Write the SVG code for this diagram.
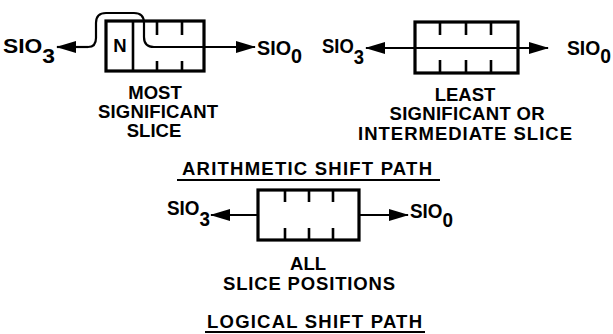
<svg xmlns="http://www.w3.org/2000/svg" width="613" height="334" viewBox="0 0 613 334">
<style>
.box{fill:none;stroke:#000;stroke-width:3.2}
.tk{fill:none;stroke:#000;stroke-width:2.6}
.ln{fill:none;stroke:#000;stroke-width:2.2}
.t{font-family:"Liberation Sans",Arial,sans-serif;font-weight:bold;font-size:18.5px;fill:#000}
.s{font-family:"Liberation Sans",Arial,sans-serif;font-weight:bold;font-size:19.5px;fill:#000}
.c{text-anchor:middle}
</style>
<defs>
<marker id="ah" viewBox="0 0 20 13" refX="19" refY="6.5" markerWidth="20" markerHeight="13" markerUnits="userSpaceOnUse" orient="auto">
<path d="M0,0.5 L20,6.5 L0,12.5 Z" fill="#000"/>
</marker>
</defs>
<rect width="613" height="334" fill="#fff"/>
<g id="connectors">
<path class="ln" d="M88,47 H57" marker-end="url(#ah)"/>
<path class="ln" d="M88,47 Q96,47 96,38 V23 Q96,13 106,13 H134 Q144,13 144,23 V37 Q144,47 154,47 H255" marker-end="url(#ah)"/>
<path class="ln" d="M466,48 H366" marker-end="url(#ah)"/>
<path class="ln" d="M466,48 H548" marker-end="url(#ah)"/>
<path class="ln" d="M258,215 H211" marker-end="url(#ah)"/>
<path class="ln" d="M359,215 H408" marker-end="url(#ah)"/>
</g>
<g id="most-significant-slice">
<rect class="box" x="106" y="21" width="98" height="50"/>
<path class="tk" d="M133,21 V71 M157,21 V35 M182,21 V35 M157,61 V71 M182,61 V71"/>
<text class="t c" x="120" y="52">N</text>
<text class="s" x="3" y="53" textLength="52" lengthAdjust="spacingAndGlyphs">SIO<tspan dy="10">3</tspan></text>
<text class="s" x="257" y="55" textLength="45" lengthAdjust="spacingAndGlyphs">SIO<tspan dy="8">0</tspan></text>
<text class="t c" x="155" y="99">MOST</text>
<text class="t c" x="158" y="118" textLength="120" lengthAdjust="spacing">SIGNIFICANT</text>
<text class="t c" x="154" y="137">SLICE</text>
</g>
<g id="least-significant-slice">
<rect class="box" x="415" y="22" width="103" height="51"/>
<path class="tk" d="M440,22 V35 M466,22 V35 M491,22 V35 M440,60 V73 M466,60 V73 M491,60 V73"/>
<text class="s" x="322" y="53" textLength="42" lengthAdjust="spacingAndGlyphs">SIO<tspan dy="11">3</tspan></text>
<text class="s" x="567" y="55" textLength="44" lengthAdjust="spacingAndGlyphs">SIO<tspan dy="8">0</tspan></text>
<text class="t c" x="465" y="101">LEAST</text>
<text class="t c" x="467" y="120" textLength="155" lengthAdjust="spacing">SIGNIFICANT OR</text>
<text class="t c" x="465" y="140" textLength="214" lengthAdjust="spacing">INTERMEDIATE SLICE</text>
</g>
<g id="arithmetic-title">
<text class="t" x="182" y="175" textLength="250" lengthAdjust="spacing">ARITHMETIC SHIFT PATH</text>
<path class="ln" d="M177,180 H440"/>
</g>
<g id="all-slice-positions">
<rect class="box" x="258" y="190" width="101" height="50"/>
<path class="tk" d="M285,190 V202 M309,190 V202 M333,190 V202 M285,228 V240 M309,228 V240 M333,228 V240"/>
<text class="s" x="167" y="215" textLength="43" lengthAdjust="spacingAndGlyphs">SIO<tspan dy="11">3</tspan></text>
<text class="s" x="410" y="218" textLength="43" lengthAdjust="spacingAndGlyphs">SIO<tspan dy="9">0</tspan></text>
<text class="t c" x="308" y="270">ALL</text>
<text class="t" x="223" y="290" textLength="172" lengthAdjust="spacing">SLICE POSITIONS</text>
</g>
<g id="logical-title">
<text class="t" x="207" y="328" textLength="215" lengthAdjust="spacing">LOGICAL SHIFT PATH</text>
<path class="ln" d="M205,332 H425"/>
</g>
</svg>
